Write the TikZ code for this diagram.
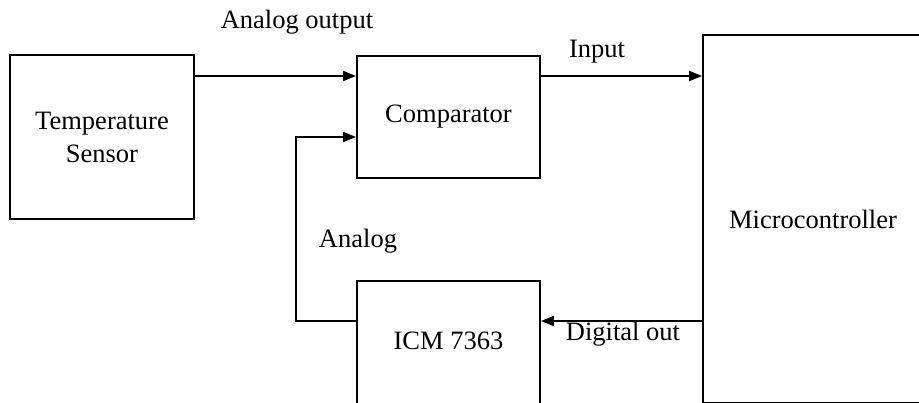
\documentclass[tikz,border=0pt]{standalone}
\usepackage{fontspec}
\setmainfont{Liberation Serif}
\usetikzlibrary{arrows.meta}
\begin{document}
\begin{tikzpicture}[x=1pt,y=-1pt,every node/.style={font=\fontsize{26.5}{33}\selectfont},
  blk/.style={draw,line width=1.9pt,inner sep=0pt,align=center},
  arr/.style={line width=1.9pt,-{Triangle[length=13pt,width=10pt]}}]
\useasboundingbox (0,0) rectangle (919,402);
\clip (0,0) rectangle (919,402);
% Blocks
\node[blk,minimum width=184pt,minimum height=164pt] (sensor) at (102,137) {Temperature\\Sensor};
\node[blk,minimum width=183pt,minimum height=122pt] (comp) at (448.5,117) {Comparator};
\node[blk,minimum width=220pt,minimum height=368pt] (micro) at (813,219) {Microcontroller};
\node[blk,minimum width=183pt,minimum height=124pt] (icm) at (448.5,343) {\raisebox{5pt}{ICM 7363}};
% Connection points
\coordinate (in1) at ([yshift=41pt]comp.west);
\coordinate (in2) at ([yshift=-20pt]comp.west);
\coordinate (dout) at ([yshift=22pt]icm.east);
\coordinate (fb) at (296,321);
% Signal path
\draw[arr] (sensor.east |- in1) -- (in1);
\draw[arr] (comp.east |- in1) -- (micro.west |- in1);
\draw[arr] (micro.west |- dout) -- (dout);
\draw[arr] (icm.west |- fb) -- (fb) -- (fb |- in2) -- (in2);
% Labels
\node (lbl-aout) at (297,22) {Analog output};
\node (lbl-in) at (597,52) {Input};
\node (lbl-an) at (358,241) {Analog};
\node (lbl-dout) at (623,334) {Digital out};
\end{tikzpicture}
\end{document}
